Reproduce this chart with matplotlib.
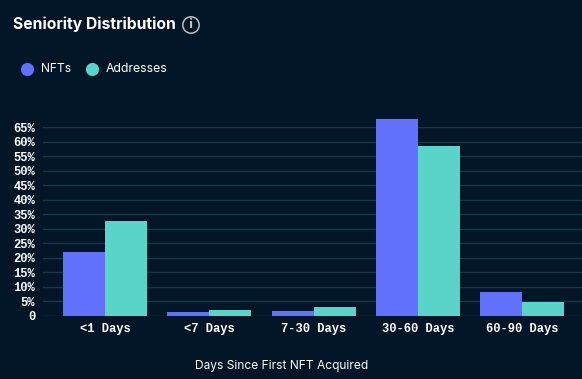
import numpy as np
import matplotlib
matplotlib.use('Agg')
import matplotlib.pyplot as plt

categories = ['<1 Days', '<7 Days', '7-30 Days', '30-60 Days', '60-90 Days']
nfts = [22.0, 1.2, 1.7, 67.8, 8.2]
addresses = [32.8, 2.0, 3.0, 58.5, 4.6]
y_ticks = [0, 5, 10, 15, 20, 25, 30, 35, 40, 45, 50, 55, 60, 65]
y_labels = ['0'] + [f'{v}%' for v in y_ticks[1:]]

BG = '#021627'
NFT_COL = '#6271fb'
ADDR_COL = '#5ad4c8'
GRID = '#1a3649'
W, H = 582, 379

fig = plt.figure(figsize=(W / 100, H / 100), dpi=100, facecolor=BG)
# axes box in pixels: x 43-582, y 127-316 from top
ax = fig.add_axes([43 / W, 1 - 315.7 / H, (W - 43) / W, 188.5 / H], facecolor=BG)

x = np.arange(len(categories))
width = 0.403
ax.bar(x - width / 2, nfts, width, color=NFT_COL, zorder=3, clip_on=False)
ax.bar(x + width / 2, addresses, width, color=ADDR_COL, zorder=3, clip_on=False)

ax.set_xlim(-0.594, 4.573)
ax.set_ylim(0, 65)
ax.set_yticks(y_ticks)
ax.set_yticklabels(y_labels)
ax.set_xticks(x)
ax.set_xticklabels(categories)
ax.grid(axis='y', color=GRID, linewidth=1, zorder=0)
ax.set_axisbelow(True)
for s in ax.spines.values():
    s.set_visible(False)
ax.tick_params(length=0, colors='white')
ax.tick_params(axis='y', pad=5.5)
ax.tick_params(axis='x', pad=5)
for lab in ax.get_xticklabels() + ax.get_yticklabels():
    lab.set_family('Liberation Mono')
    lab.set_weight('bold')
    lab.set_fontsize(8.7)

# title, info icon, legend and axis label sit outside the axes
fig.text(13 / W, 1 - 24 / H, 'Seniority Distribution', color='white', family='Inter',
         weight='bold', fontsize=11.3, va='center')
fig.text(191 / W, 1 - 25 / H, 'i', color='#b8c0c8', family='DejaVu Sans', weight='bold',
         fontsize=9, ha='center', va='center')
overlay = fig.add_axes([0, 0, 1, 1], facecolor='none')
overlay.set_xlim(0, W)
overlay.set_ylim(H, 0)
overlay.axis('off')
overlay.scatter([191], [25], s=140, facecolor='none', edgecolor='#b8c0c8', linewidth=1.1)
overlay.scatter([27], [69], s=90, color=NFT_COL, linewidth=0)
overlay.scatter([92], [69], s=90, color=ADDR_COL, linewidth=0)
overlay.text(41, 69, 'NFTs', color='white', family='Inter', fontsize=8.6, va='center')
overlay.text(106, 69, 'Addresses', color='white', family='Inter', fontsize=8.8, va='center')
overlay.text(282, 366, 'Days Since First NFT Acquired', color='white', family='Inter',
             fontsize=8.6, ha='center', va='center')

fig.savefig('out.png', dpi=100, facecolor=BG)
